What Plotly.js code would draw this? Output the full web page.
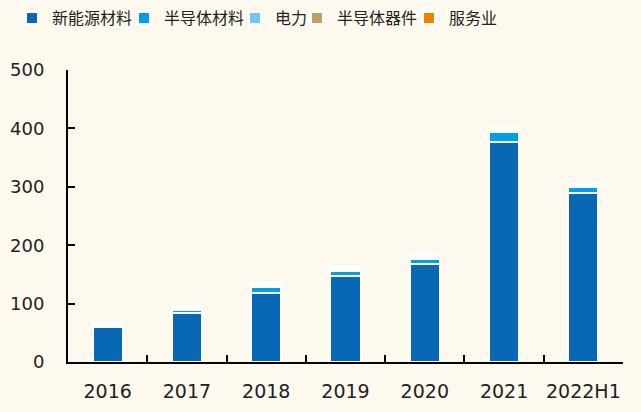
<!DOCTYPE html>
<html>
<head>
<meta charset="utf-8">
<script src="https://cdn.plot.ly/plotly-3.0.1.min.js"></script>
<style>html,body{margin:0;padding:0;background:#fef9ef;}</style>
</head>
<body>
<div id="chart" style="width:641px;height:412px;"></div>
<script>
var categories = ["2016", "2017", "2018", "2019", "2020", "2021", "2022H1"];
var newEnergyMaterials = [60, 84, 119, 147, 167, 377, 290];
var semiMaterials = [2, 5, 9, 8, 9, 17, 10];
var power = [2, 2, 2, 3, 4, 3, 2];
var semiDevices = [3, 3, 3, 3, 3, 3, 3];
var services = [2, 2, 2, 2, 2, 2, 2];
var seriesNames = ["新能源材料", "半导体材料", "电力", "半导体器件", "服务业"];
var seriesColors = ["#0868b4", "#00a0e9", "#6ec6f5", "#c0a060", "#f08000"];
var seriesValues = [newEnergyMaterials, semiMaterials, power, semiDevices, services];
var legendTextStart = [52, 164, 275, 337, 449];

var legendIds = ["legend", "legend2", "legend3", "legend4", "legend5"];
var traces = seriesValues.map(function (vals, i) {
  return {
    type: "bar",
    name: seriesNames[i],
    x: categories,
    y: vals,
    legend: legendIds[i],
    marker: { color: seriesColors[i], line: { color: "#ffffff", width: 2 } },
    hoverinfo: "x+y+name"
  };
});

var layout = {
  width: 641, height: 412,
  barmode: "stack",
  bargap: 0.62,
  paper_bgcolor: "#fef9ef",
  plot_bgcolor: "#fef9ef",
  margin: { l: 68, r: 18, t: 70, b: 50, autoexpand: false },
  font: { family: "DejaVu Sans, Noto Sans CJK SC, sans-serif", color: "#222", size: 17 },
  showlegend: true,
  xaxis: {
    type: "category",
    showline: true, linecolor: "#000", linewidth: 2,
    ticks: "inside", tickson: "boundaries", ticklen: 7, tickwidth: 2, tickcolor: "#000",
    showgrid: false, zeroline: false,
    tickangle: 0,
    tickfont: { size: 19, color: "#222" },
    ticklabelstandoff: 11,
    fixedrange: true
  },
  yaxis: {
    range: [0, 500], dtick: 100, tick0: 0,
    showline: true, linecolor: "#000", linewidth: 2,
    ticks: "inside", ticklen: 7, tickwidth: 2, tickcolor: "#000",
    showgrid: false, zeroline: false,
    tickfont: { size: 18, color: "#222" },
    ticklabelstandoff: 18,
    fixedrange: true
  }
};
legendIds.forEach(function (id, i) {
  layout[id] = {
    orientation: "h", xref: "container", x: (legendTextStart[i] - 40) / 641, xanchor: "left",
    yref: "container", y: 1 - 18 / 412, yanchor: "middle",
    font: { family: "Noto Sans CJK SC, sans-serif", size: 16, color: "#222" },
    itemwidth: 30, bgcolor: "rgba(0,0,0,0)", borderwidth: 0
  };
});

Plotly.newPlot("chart", traces, layout, { displayModeBar: false, staticPlot: true });
</script>
</body>
</html>
